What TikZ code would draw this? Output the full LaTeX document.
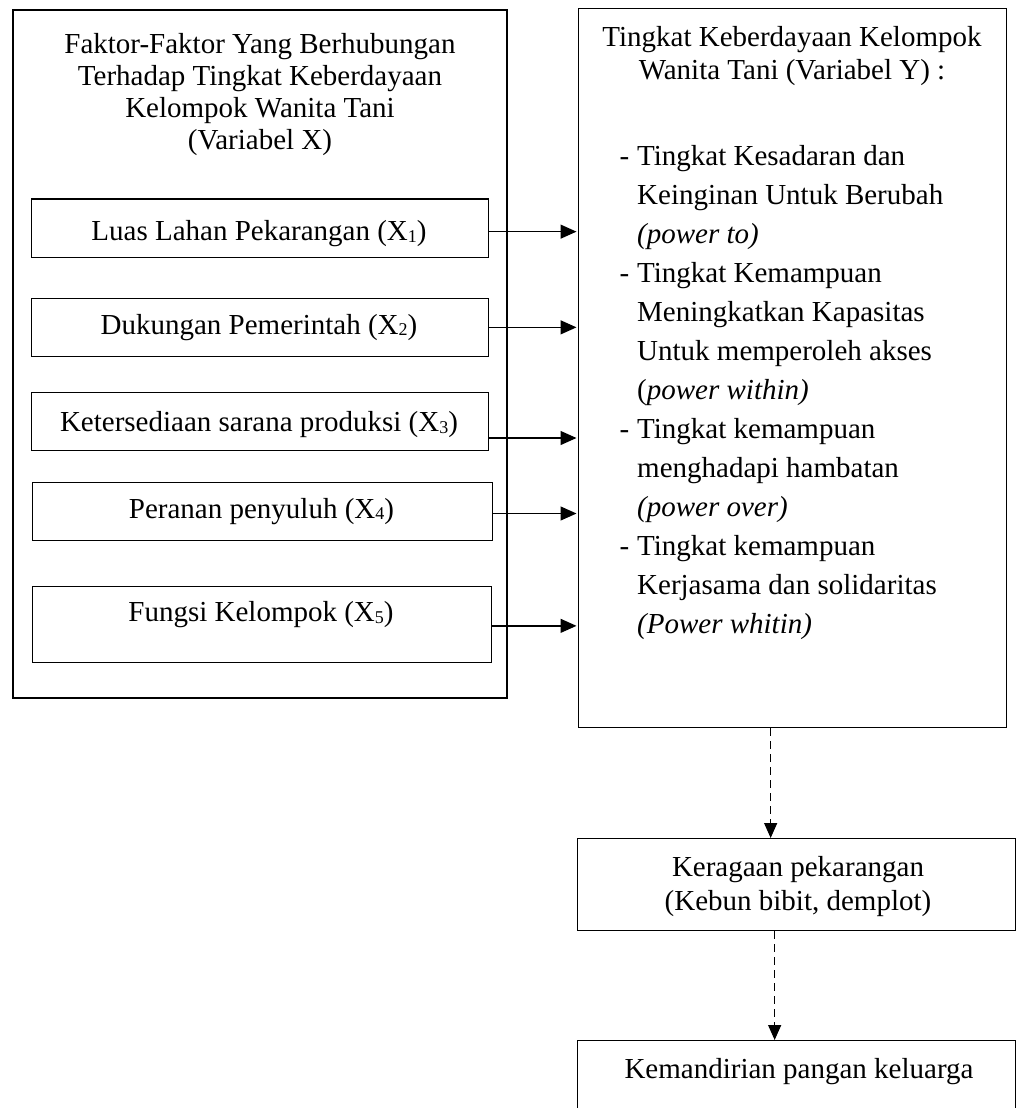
\documentclass[tikz,border=0pt]{standalone}
\usepackage{fontspec}
\setmainfont{Liberation Serif}
\usetikzlibrary{arrows.meta}
\newcommand\sbx[1]{\raisebox{-1.5pt}{\fontsize{18}{18}\selectfont #1}}
\begin{document}
\begin{tikzpicture}[x=1pt,y=-1pt,
  boxs/.style={draw, line width=1.3pt, inner sep=0pt, anchor=north west},
  txt/.style={anchor=base, inner sep=0pt, font=\fontsize{29}{39}\selectfont},
  ltxt/.style={anchor=base west, inner sep=0pt, font=\fontsize{29}{39}\selectfont},
  arr/.style={line width=1.3pt, -{Triangle[length=16pt,width=14pt]}, shorten >=1.5pt},
  darr/.style={line width=1.3pt, dash pattern=on 8pt off 5pt, -{Triangle[length=15pt,width=13pt]}}
]
\useasboundingbox (0,0) rectangle (1016,1108);

% boxes
\node[boxs, line width=2.2pt, minimum width=494pt, minimum height=688pt] (outerX) at (12,9) {};
\node[boxs, minimum width=457pt, minimum height=58.4pt] (x1) at (30.5,198.3) {};
\node[boxs, minimum width=457pt, minimum height=58pt] (x2) at (30.5,297.7) {};
\node[boxs, minimum width=457pt, minimum height=58.3pt] (x3) at (30.5,391.7) {};
\node[boxs, minimum width=460.5pt, minimum height=58.3pt] (x4) at (31.5,481.7) {};
\node[boxs, minimum width=459pt, minimum height=76pt] (x5) at (31.5,585.7) {};
\node[boxs, minimum width=428pt, minimum height=719pt] (ybox) at (578,8) {};
\node[boxs, minimum width=438pt, minimum height=92pt] (kera) at (577,838) {};
\node[boxs, minimum width=438pt, minimum height=90pt] (kem) at (577,1040) {};

% left title
\node[txt] (t1) at (260,53) {Faktor-Faktor Yang Berhubungan};
\node[txt] (t2) at (260,85) {Terhadap Tingkat Keberdayaan};
\node[txt] (t3) at (260,117) {Kelompok Wanita Tani};
\node[txt] (t4) at (260,149) {(Variabel X)};

% inner box texts
\node[txt] (l1) at (259,240.5) {Luas Lahan Pekarangan (X\sbx{1})};
\node[txt] (l2) at (259,334) {Dukungan Pemerintah (X\sbx{2})};
\node[txt] (l3) at (259,431.7) {Ketersediaan sarana produksi (X\sbx{3})};
\node[txt] (l4) at (261.5,518) {Peranan penyuluh (X\sbx{4})};
\node[txt] (l5) at (261,621.7) {Fungsi Kelompok (X\sbx{5})};

% right title
\node[txt] (r1) at (792,47) {Tingkat Keberdayaan Kelompok};
\node[txt] (r2) at (792,80) {Wanita Tani (Variabel Y) :};

% right list
\node[ltxt] (b1) at (637,165) {\llap{-\hspace{8pt}}Tingkat Kesadaran dan};
\node[ltxt] (b2) at (637,204) {Keinginan Untuk Berubah};
\node[ltxt] (b3) at (637,243) {\textit{(power to)}};
\node[ltxt] (b4) at (637,282) {\llap{-\hspace{8pt}}Tingkat Kemampuan};
\node[ltxt] (b5) at (637,321) {Meningkatkan Kapasitas};
\node[ltxt] (b6) at (637,360) {Untuk memperoleh akses};
\node[ltxt] (b7) at (637,399) {(\textit{power within)}};
\node[ltxt] (b8) at (637,438) {\llap{-\hspace{8pt}}Tingkat kemampuan};
\node[ltxt] (b9) at (637,477) {menghadapi hambatan};
\node[ltxt] (b10) at (637,516) {\textit{(power over)}};
\node[ltxt] (b11) at (637,555) {\llap{-\hspace{8pt}}Tingkat kemampuan};
\node[ltxt] (b12) at (637,594) {Kerjasama dan solidaritas};
\node[ltxt] (b13) at (637,633) {\textit{(Power whitin)}};

% lower boxes text
\node[txt] (k1) at (798,876) {Keragaan pekarangan};
\node[txt] (k2) at (798,910) {(Kebun bibit, demplot)};
\node[txt] (m1) at (799,1078) {Kemandirian pangan keluarga};

% arrows
\draw[arr] ([yshift=-3.5pt]x1.east) -- ([yshift=-3.5pt]x1.east -| ybox.west);
\draw[arr] ([yshift=0pt]x2.east) -- ([yshift=0pt]x2.east -| ybox.west);
\draw[arr] ([yshift=-16.5pt]x3.east) -- ([yshift=-16.5pt]x3.east -| ybox.west);
\draw[arr] ([yshift=-2pt]x4.east) -- ([yshift=-2pt]x4.east -| ybox.west);
\draw[arr] ([yshift=-1.5pt]x5.east) -- ([yshift=-1.5pt]x5.east -| ybox.west);

\draw[darr] ([xshift=-22pt]ybox.south) -- ([xshift=-22pt]ybox.south |- kera.north);
\draw[darr] ([xshift=-22pt]kera.south) -- ([xshift=-22pt]kera.south |- kem.north);
\end{tikzpicture}
\end{document}
